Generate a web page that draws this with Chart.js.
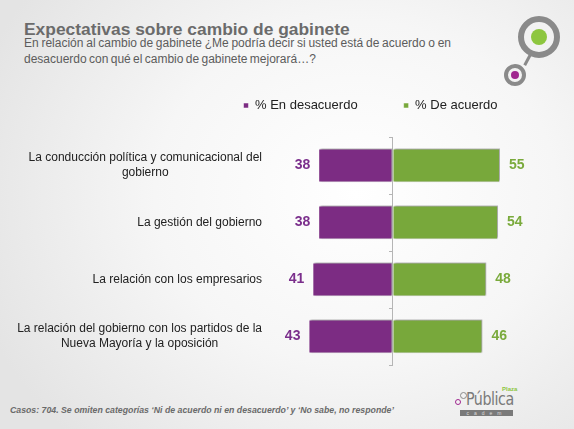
<!DOCTYPE html>
<html>
<head>
<meta charset="utf-8">
<script src="https://cdn.jsdelivr.net/npm/chart.js@4"></script>
<style>
  html, body { margin: 0; padding: 0; }
  body {
    width: 574px; height: 429px; overflow: hidden; position: relative;
    font-family: "Liberation Sans", Arial, sans-serif;
    background: radial-gradient(ellipse 70% 80% at 62% 45%, #ffffff 0%, #f6f6f6 50%, #e4e4e4 100%);
  }
  .title { position: absolute; left: 24px; top: 19px; font-size: 17.4px; font-weight: bold; color: #6b6b6b; white-space: nowrap; }
  .sub { position: absolute; left: 24px; top: 35px; width: 427px; font-size: 12px; line-height: 16px; word-spacing: -1px; color: #5c5c5c; text-align: justify; text-align-last: left; }
  .foot { position: absolute; left: 10px; top: 404px; font-size: 9.5px; font-weight: bold; font-style: italic; color: #6a6a6a; white-space: nowrap; transform: scaleX(0.92); transform-origin: left center; }
  canvas { position: absolute; left: 0; top: 40px; }
  .ring { position: absolute; border-radius: 50%; box-sizing: border-box; border-style: solid; border-color: #8a8a8a; background: #f2f2f2; }
  .dot { position: absolute; border-radius: 50%; }
  .link { position: absolute; background: #8a8a8a; width: 3px; height: 12px; transform: rotate(28deg); }
  .pub { position: absolute; left: 466px; top: 388px; font-family: "DejaVu Sans Condensed", "Liberation Sans Narrow", sans-serif; font-size: 18px; color: #7a7a7a; letter-spacing: -0.5px; transform: scaleX(0.88); transform-origin: left center; }
  .plaza { position: absolute; left: 502px; top: 386px; font-size: 6px; font-weight: bold; color: #8dc63f; }
  .cadem { position: absolute; left: 460px; top: 410px; width: 53px; height: 6px; background: #7a7a7a; color: #ddd; font-size: 5px; line-height: 6px; letter-spacing: 5px; text-align: center; }
</style>
</head>
<body>
<div class="title">Expectativas sobre cambio de gabinete</div>
<div class="sub">En relación al cambio de gabinete ¿Me podría decir si usted está de acuerdo o en desacuerdo con qué el cambio de gabinete mejorará…?</div>

<div class="link" style="left:526px; top:54px;"></div>
<div class="ring" style="left:518px; top:16px; width:42px; height:42px; border-width:6px;"></div>
<div class="dot" style="left:531px; top:29px; width:16px; height:16px; background:#8dc63f;"></div>
<div class="ring" style="left:504px; top:64px; width:22px; height:22px; border-width:4px;"></div>
<div class="dot" style="left:511px; top:71px; width:8px; height:8px; background:#a0288f;"></div>

<canvas id="chart" width="574" height="340"></canvas>

<div class="foot">Casos: 704. Se omiten categorías ‘Ni de acuerdo ni en desacuerdo’ y ‘No sabe, no responde’</div>
<div class="ring" style="left:460px; top:392px; width:7px; height:7px; border-width:1.5px;"></div>
<div class="ring" style="left:455px; top:399px; width:6px; height:6px; border-width:1.5px; border-color:#a0288f;"></div>
<div class="pub">Pública</div>
<div class="plaza">Plaza</div>
<div class="cadem">cadem</div>

<script>
// datos
const categorias = [
  ["La conducción política y comunicacional del", "gobierno"],
  ["La gestión del gobierno"],
  ["La relación con los empresarios"],
  ["La relación del gobierno con los partidos de la", "Nueva Mayoría y la oposición"]
];
const desacuerdo = [38, 38, 41, 43];
const acuerdo = [55, 54, 48, 46];
const series = ["% En desacuerdo", "% De acuerdo"];

const MORADO = "#7c2c83";
const VERDE = "#78a83b";

// sombra suave de las barras
const sombra = {
  id: "sombra",
  beforeDatasetsDraw(chart) {
    const ctx = chart.ctx;
    ctx.save();
    ctx.shadowColor = "rgba(0,0,0,0.35)";
    ctx.shadowBlur = 2;
    ctx.shadowOffsetX = 2;
    ctx.shadowOffsetY = -1;
  },
  afterDatasetsDraw(chart) {
    chart.ctx.restore();
  }
};

// etiquetas de categoría y valores
const etiquetas = {
  id: "etiquetas",
  afterDraw(chart) {
    const ctx = chart.ctx;
    const y = chart.scales.y;
    ctx.save();
    ctx.textBaseline = "middle";

    ctx.font = "12px 'Liberation Sans', Arial, sans-serif";
    ctx.fillStyle = "#222";
    ctx.textAlign = "center";
    categorias.forEach((lineas, i) => {
      const cy = y.getPixelForValue(i);
      const w = Math.max(...lineas.map(l => ctx.measureText(l).width));
      const cx = 262 - w / 2;
      lineas.forEach((l, j) => {
        ctx.fillText(l, cx, cy + (j - (lineas.length - 1) / 2) * 15);
      });
    });

    ctx.font = "bold 14px 'Liberation Sans', Arial, sans-serif";
    chart.getDatasetMeta(0).data.forEach((bar, i) => {
      ctx.fillStyle = "#7b2f8c";
      ctx.textAlign = "right";
      ctx.fillText(desacuerdo[i], bar.x - 8, bar.y);
    });
    chart.getDatasetMeta(1).data.forEach((bar, i) => {
      ctx.fillStyle = "#7aaa3c";
      ctx.textAlign = "left";
      ctx.fillText(acuerdo[i], bar.x + 9, bar.y);
    });
    ctx.restore();
  }
};

new Chart(document.getElementById("chart"), {
  type: "bar",
  data: {
    labels: categorias.map(c => c.join(" ")),
    datasets: [
      {
        label: series[0],
        data: desacuerdo.map(v => -v),
        backgroundColor: MORADO,
        borderColor: "rgba(255,255,255,0.5)",
        borderWidth: 1,
        borderSkipped: false
      },
      {
        label: series[1],
        data: acuerdo,
        backgroundColor: VERDE,
        borderColor: "rgba(255,255,255,0.5)",
        borderWidth: 1,
        borderSkipped: false
      }
    ]
  },
  options: {
    indexAxis: "y",
    responsive: false,
    animation: false,
    devicePixelRatio: 1,
    categoryPercentage: 1,
    barPercentage: 0.6,
    layout: { padding: { left: 190, right: 23, top: 13, bottom: 15 } },
    plugins: {
      legend: {
        position: "top",
        labels: {
          boxWidth: 5,
          boxHeight: 5,
          padding: 46,
          color: "#222",
          font: { size: 13, family: "'Liberation Sans', Arial, sans-serif" }
        }
      },
      tooltip: { enabled: false }
    },
    scales: {
      x: {
        position: "top",
        stacked: true,
        min: -103.6,
        max: 81.1,
        ticks: { display: false },
        grid: { display: false },
        border: { display: false },
        afterFit: s => { s.height = 15; }
      },
      y: {
        position: { x: 0 },
        stacked: true,
        ticks: { display: false },
        grid: { drawOnChartArea: false, tickLength: 3, color: "#b5b5b5" },
        border: { color: "#b5b5b5" }
      }
    }
  },
  plugins: [sombra, etiquetas]
});
</script>
</body>
</html>
